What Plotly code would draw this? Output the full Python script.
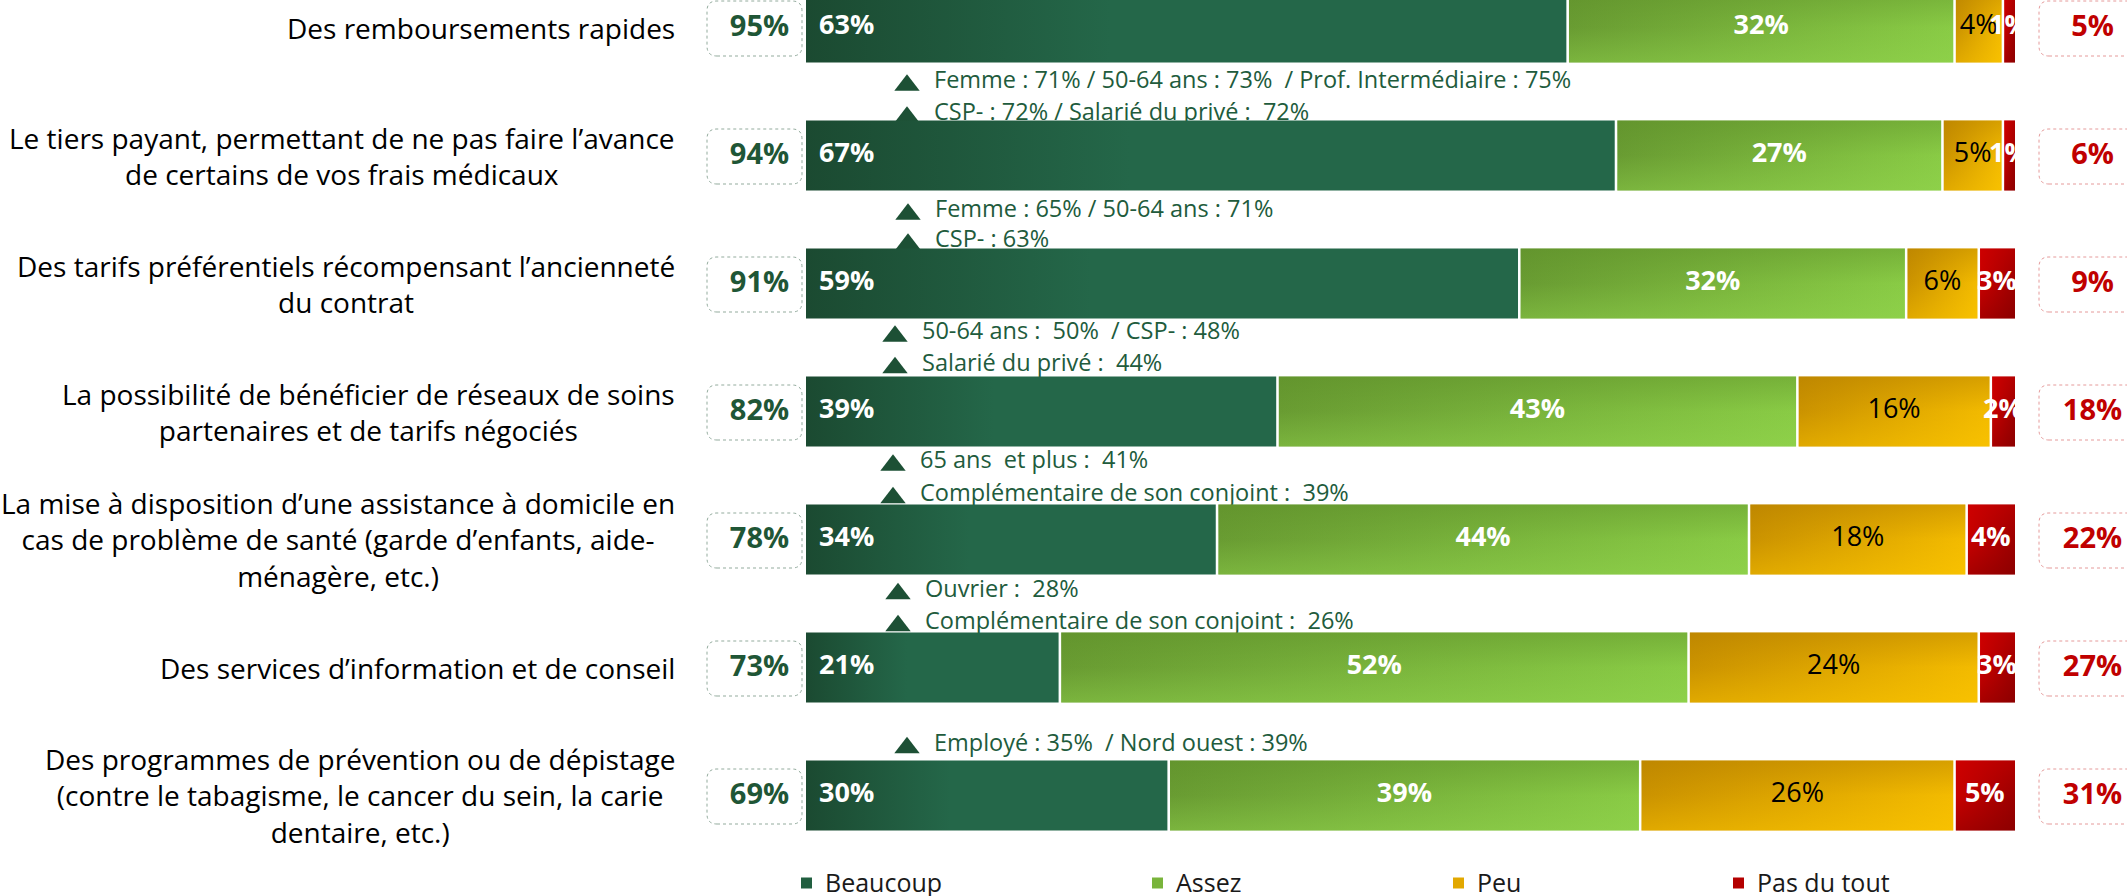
import plotly.graph_objects as go

# ---------------- data ----------------
categories = [
    "Des remboursements rapides",
    "Le tiers payant, permettant de ne pas faire l’avance<br>de certains de vos frais médicaux",
    "Des tarifs préférentiels récompensant l’ancienneté<br>du contrat",
    "La possibilité de bénéficier de réseaux de soins<br>partenaires et de tarifs négociés",
    "La mise à disposition d’une assistance à domicile en<br>cas de problème de santé (garde d’enfants, aide-<br>ménagère, etc.)",
    "Des services d’information et de conseil",
    "Des programmes de prévention ou de dépistage<br>(contre le tabagisme, le cancer du sein, la carie<br>dentaire, etc.)",
]
series_names = ["Beaucoup", "Assez", "Peu", "Pas du tout"]
beaucoup = [63, 67, 59, 39, 34, 21, 30]
assez = [32, 27, 32, 43, 44, 52, 39]
peu = [4, 5, 6, 16, 18, 24, 26]
pas_du_tout = [1, 1, 3, 2, 4, 3, 5]
total_important = [95, 94, 91, 82, 78, 73, 69]
total_pas_important = [5, 6, 9, 18, 22, 27, 31]
notes = [
    [],
    ["Femme : 71% / 50-64 ans : 73%  / Prof. Intermédiaire : 75%", "CSP- : 72% / Salarié du privé :  72%"],
    ["Femme : 65% / 50-64 ans : 71%", "CSP- : 63%"],
    ["50-64 ans :  50%  / CSP- : 48%", "Salarié du privé :  44%"],
    ["65 ans  et plus :  41%", "Complémentaire de son conjoint :  39%"],
    ["Ouvrier :  28%", "Complémentaire de son conjoint :  26%"],
    ["Employé : 35%  / Nord ouest : 39%"],
]

# ---------------- layout constants (pixels) ----------------
W, H = 2127, 896
N = len(categories)
X0_PX, PX_PER_PCT = 806.0, 12.09
ROW0_PX, ROW_STEP = 27.5, 128.0
BAR_H_PX = 70.0
GAP_PX = 1.3
NOTE_DY = [[], [-73, -41], [-72, -42], [-78, -46.5], [-77, -44.5], [-76.5, -44.5], [-50.5]]
NOTE_X = [0, 934, 935, 922, 920, 925, 934]
TRI_R = 11
FONT = "Open Sans"
NOTE_COL = "#215b3c"
TRI_COL = "#1d5035"
GREEN_TXT = "#1f5636"
RED_TXT = "#c00000"


def xd(px):
    return (px - X0_PX) / PX_PER_PCT


def yd(px):
    return (N - 1) - (px - ROW0_PX) / ROW_STEP


def row_px(i):
    return ROW0_PX + ROW_STEP * i


def rgba(h, a):
    h = h.lstrip("#")
    r, g, b = int(h[0:2], 16), int(h[2:4], 16), int(h[4:6], 16)
    return f"rgba({r},{g},{b},{a})"


# gradient definitions per series: horizontal base + vertical overlay (diagonal look)
H_GRAD = [
    [[0, "#1b4a31"], [0.4, "#246749"], [1, "#246749"]],
    [[0, "#699c32"], [1, "#89cb45"]],
    [[0, "#cb9300"], [1, "#f3bb00"]],
    [[0, "#c80000"], [1, "#9c0000"]],
]
DIAG = [None, ("#5a8a27", "#95d950"), ("#ac7600", "#ffca00"), ("#d60000", "#760000")]

fig = go.Figure()

# ---- notes (drawn beneath bars) ----
note_x, note_y, note_t, tri_x, tri_y = [], [], [], [], []
for i, lines in enumerate(notes):
    for j, t in enumerate(lines):
        ypx = row_px(i) + NOTE_DY[i][j]
        note_x.append(xd(NOTE_X[i]))
        note_y.append(yd(ypx))
        note_t.append(t)
        tri_x.append(xd(NOTE_X[i] - 27))
        tri_y.append(yd(ypx + TRI_R / 4))
fig.add_trace(go.Scatter(x=tri_x, y=tri_y, mode="markers",
                         marker=dict(symbol="triangle-up", size=2 * TRI_R, color=TRI_COL, line=dict(width=0)),
                         hoverinfo="skip", showlegend=False, cliponaxis=False))
fig.add_trace(go.Scatter(x=note_x, y=note_y, mode="text", text=note_t, textposition="middle right",
                         textfont=dict(family=FONT, size=23.5, color=NOTE_COL),
                         hoverinfo="skip", showlegend=False, cliponaxis=False))

# ---- stacked bars ----
series = [beaucoup, assez, peu, pas_du_tout]
half = BAR_H_PX / 2 / ROW_STEP
gap = GAP_PX / PX_PER_PCT
seg_bounds = []
for k, vals in enumerate(series):
    bounds = []
    for i in range(N):
        left = sum(s[i] for s in series[:k])
        right = left + vals[i]
        bounds.append((left, right))
        x0 = left + (gap if k > 0 else 0)
        x1 = right - (gap if k < len(series) - 1 else 0)
        yc = N - 1 - i
        yb, yt = yc - half, yc + half
        px_ = [x0, x1, x1, x0, x0]
        py_ = [yb, yb, yt, yt, yb]
        fig.add_trace(go.Scatter(x=px_, y=py_, mode="lines", fill="toself", line=dict(width=0),
                                 fillgradient=dict(type="horizontal", start=x0, stop=x1, colorscale=H_GRAD[k]),
                                 hoverinfo="skip", showlegend=False))
        if DIAG[k]:
            tl, br = DIAG[k]
            cs = [[0, rgba(br, 0.4)], [0.5, rgba(br, 0)], [0.5, rgba(tl, 0)], [1, rgba(tl, 0.4)]]
            fig.add_trace(go.Scatter(x=px_, y=py_, mode="lines", fill="toself", line=dict(width=0),
                                     fillgradient=dict(type="vertical", start=yb, stop=yt, colorscale=cs),
                                     hoverinfo="skip", showlegend=False))
    seg_bounds.append(bounds)

# ---- bar value labels ----
yrows = [N - 1 - i for i in range(N)]
fig.add_trace(go.Scatter(x=[xd(819)] * N, y=yrows, mode="text", text=[f"{v}%" for v in beaucoup],
                         textposition="middle right",
                         textfont=dict(family=FONT, size=27, color="white", weight="bold"),
                         hoverinfo="skip", showlegend=False, cliponaxis=False))
label_styles = [None, ("white", "bold"), ("black", "normal"), ("white", "bold")]
for k in (1, 2, 3):
    cx = [(a + b) / 2 for a, b in seg_bounds[k]]
    col, wt = label_styles[k]
    fig.add_trace(go.Scatter(x=cx, y=yrows, mode="text", text=[f"{v}%" for v in series[k]],
                             textposition="middle center",
                             textfont=dict(family=FONT, size=27, color=col, weight=wt),
                             hoverinfo="skip", showlegend=False, cliponaxis=False))

# ---- totals in rounded boxes ----
fig.add_trace(go.Scatter(x=[xd(759.5)] * N, y=[yd(row_px(i) + 1) for i in range(N)], mode="text",
                         text=[f"{v}%" for v in total_important], textposition="middle center",
                         textfont=dict(family=FONT, size=29, color=GREEN_TXT, weight="bold"),
                         hoverinfo="skip", showlegend=False, cliponaxis=False))
fig.add_trace(go.Scatter(x=[xd(2092.5)] * N, y=[yd(row_px(i) + 1) for i in range(N)], mode="text",
                         text=[f"{v}%" for v in total_pas_important], textposition="middle center",
                         textfont=dict(family=FONT, size=29, color=RED_TXT, weight="bold"),
                         hoverinfo="skip", showlegend=False, cliponaxis=False))


def rrect(x0p, x1p, y0p, y1p, r=10):
    # pixel rectangle -> data-coordinate rounded path
    X0, X1 = xd(x0p), xd(x1p)
    Yt, Yb = yd(y0p), yd(y1p)
    rx = r / PX_PER_PCT
    ry = r / ROW_STEP
    return (f"M{X0+rx},{Yb} L{X1-rx},{Yb} Q{X1},{Yb} {X1},{Yb+ry} L{X1},{Yt-ry} "
            f"Q{X1},{Yt} {X1-rx},{Yt} L{X0+rx},{Yt} Q{X0},{Yt} {X0},{Yt-ry} L{X0},{Yb+ry} "
            f"Q{X0},{Yb} {X0+rx},{Yb} Z")


shapes = []
for i in range(N):
    c = row_px(i) + 1
    shapes.append(dict(type="path", path=rrect(707, 802, c - 27.5, c + 27.5), xref="x", yref="y",
                       line=dict(color="#93ab9d", width=1, dash="dot"), layer="below"))
    shapes.append(dict(type="path", path=rrect(2039, 2152, c - 27.5, c + 27.5), xref="x", yref="y",
                       line=dict(color="#e59a9a", width=1, dash="dot"), layer="below"))

# ---- category labels ----
annotations = []
for i, cat in enumerate(categories):
    annotations.append(dict(x=xd(677), y=N - 1 - i, xref="x", yref="y", text=cat, showarrow=False,
                            xanchor="right", yanchor="middle", align="center",
                            font=dict(family=FONT, size=28, color="#000000")))

# ---- legend (custom) ----
leg_sq = [801, 1152, 1453, 1733]
leg_cols = ["#215f40", "#79b43b", "#e2a800", "#b40000"]
for name, sx, col in zip(series_names, leg_sq, leg_cols):
    shapes.append(dict(type="rect", xref="x", yref="y", x0=xd(sx), x1=xd(sx + 11),
                       y0=yd(888.5), y1=yd(877.5), fillcolor=col, line=dict(width=0)))
    annotations.append(dict(x=xd(sx + 22), y=yd(882), xref="x", yref="y", text=name, showarrow=False,
                            xanchor="left", yanchor="middle",
                            font=dict(family=FONT, size=25, color="#1a1a1a")))

fig.update_layout(
    width=W, height=H,
    margin=dict(l=0, r=0, t=0, b=0),
    paper_bgcolor="white", plot_bgcolor="white",
    showlegend=False,
    xaxis=dict(range=[xd(0), xd(W)], visible=False, fixedrange=True),
    yaxis=dict(range=[yd(H), yd(0)], visible=False, fixedrange=True),
    shapes=shapes, annotations=annotations,
)

fig.write_html("out.html", config={"displayModeBar": False},
               post_script="document.body.style.margin='0px';document.body.style.overflow='hidden';")
